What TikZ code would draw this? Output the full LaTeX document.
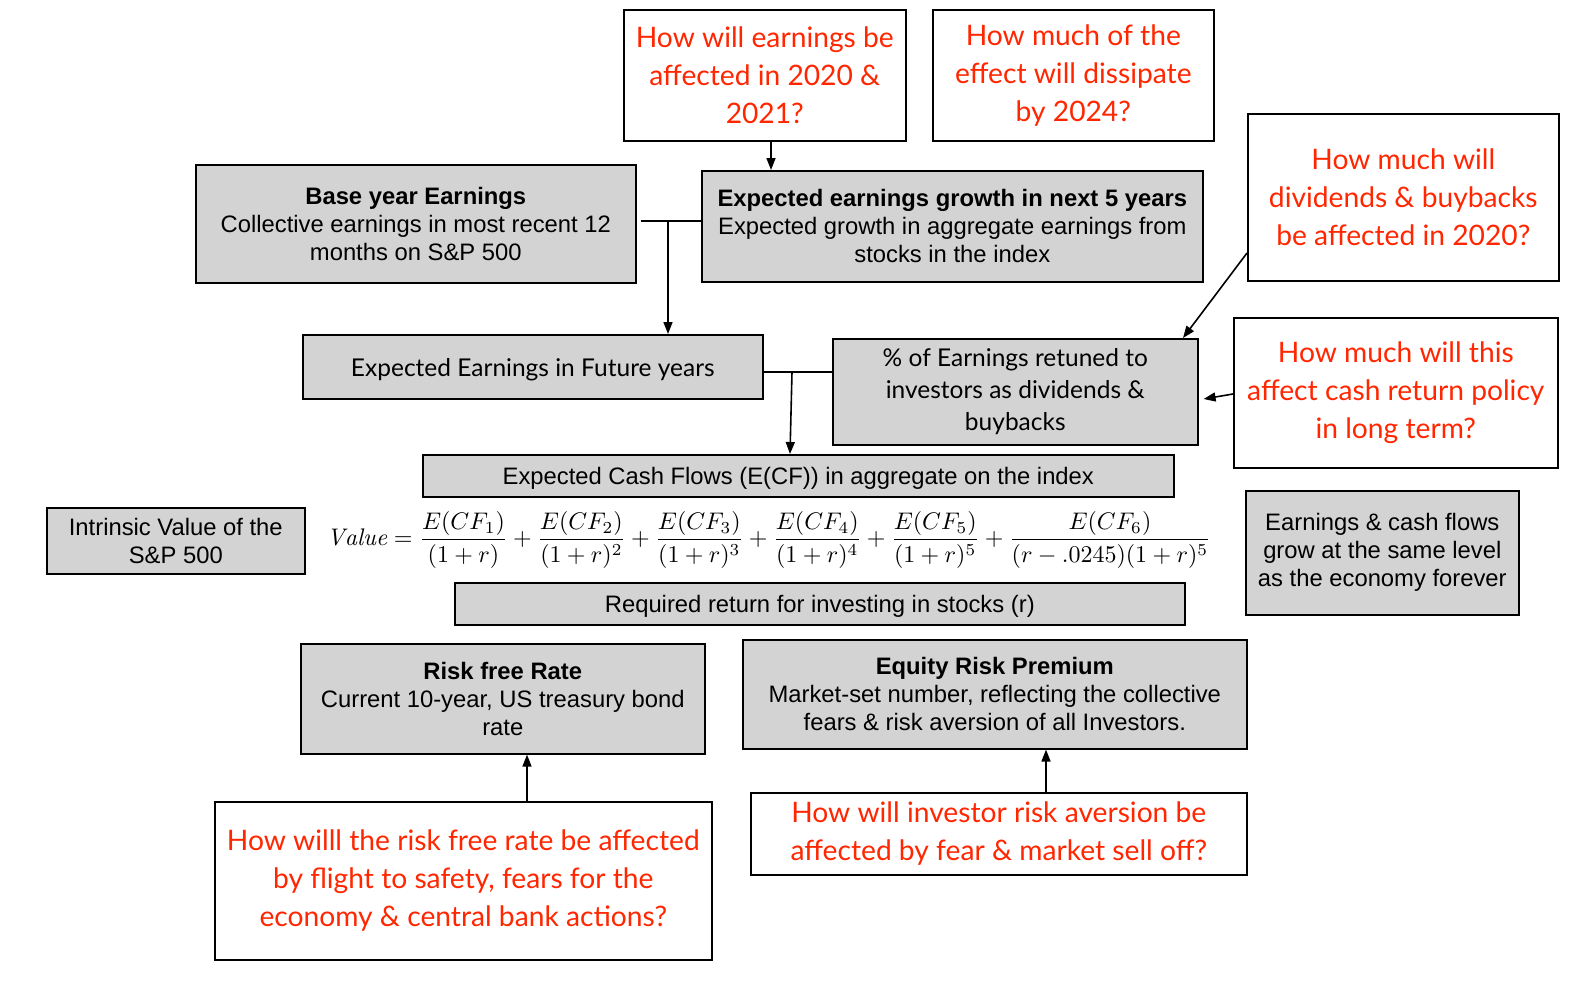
\documentclass[tikz,border=0pt]{standalone}
\usepackage{fontspec}
\usepackage{amsmath}
\usepackage{graphicx}
\newfontfamily\helv{Liberation Sans}
\newfontfamily\aven{Lato}
\usetikzlibrary{arrows.meta}
\definecolor{qred}{RGB}{255,38,0}
\definecolor{boxgray}{RGB}{211,211,211}
\newcommand\lowertxt[1]{\raisebox{-3pt}[\height][\depth]{#1}}
\tikzset{
  gbox/.style={draw=black, line width=1.6pt, fill=boxgray, inner sep=0pt, anchor=north west, align=center, font=\helv\fontsize{23.8}{28}\selectfont},
  abox/.style={gbox, font=\aven\fontsize{24.5}{32}\selectfont},
  rbox/.style={draw=black, line width=1.6pt, fill=white, inner sep=0pt, anchor=north west, align=center, text=qred, font=\aven\fontsize{28.2}{38}\selectfont},
  arr/.style={line width=1.6pt, -{Triangle[length=12pt,width=9pt]}},
  conn/.style={line width=1.6pt}
}
\begin{document}
\begin{tikzpicture}[x=1pt,y=-1pt]
\useasboundingbox[fill=white] (0,0) rectangle (1574,998);

\node[rbox, minimum width=282pt, minimum height=131pt] (red1) at (623,9) {How will earnings be\\affected in 2020 \&\\2021?};
\node[rbox, minimum width=281pt, minimum height=131pt] (red2) at (932,9) {How much of the\\effect will dissipate\\by 2024?};
\node[rbox, minimum width=311pt, minimum height=167pt] (red3) at (1247,113) {How much will\\dividends \& buybacks\\be affected in 2020?};

\node[gbox, minimum width=440pt, minimum height=118pt] (base) at (195,164) {\bfseries Base year Earnings\\Collective earnings in most recent 12\\months on S\&P 500};
\node[gbox, minimum width=501pt, minimum height=111pt] (expg) at (701,170) {\bfseries Expected earnings growth in next 5 years\\Expected growth in aggregate earnings from\\stocks in the index};

\node[abox, minimum width=460pt, minimum height=64pt] (future) at (302,334) {\lowertxt{Expected Earnings in Future years}};
\node[abox, minimum width=365pt, minimum height=106pt] (pct) at (832,338) {\% of Earnings retuned to\\investors as dividends \&\\buybacks};
\node[rbox, minimum width=324pt, minimum height=150pt] (red4) at (1233,317) {How much will this\\affect cash return policy\\in long term?};

\node[gbox, minimum width=751pt, minimum height=42pt] (ecf) at (422,454) {\lowertxt{Expected Cash Flows (E(CF)) in aggregate on the index}};
\node[gbox, minimum width=258pt, minimum height=66pt] (iv) at (46,507) {Intrinsic Value of the\\S\&P 500};
\node (formula) at (769,540) {\resizebox{884pt}{!}{$\displaystyle \mathit{Value}=\frac{E(CF_1)}{(1+r)}+\frac{E(CF_2)}{(1+r)^2}+\frac{E(CF_3)}{(1+r)^3}+\frac{E(CF_4)}{(1+r)^4}+\frac{E(CF_5)}{(1+r)^5}+\frac{E(CF_6)}{(r-.0245)(1+r)^5}$}};
\node[gbox, minimum width=273pt, minimum height=124pt] (eco) at (1245,490) {Earnings \& cash flows\\grow at the same level\\as the economy forever};
\node[gbox, minimum width=730pt, minimum height=42pt] (req) at (454,582) {\lowertxt{Required return for investing in stocks (r)}};

\node[gbox, minimum width=404pt, minimum height=110pt] (rf) at (300,643) {\bfseries Risk free Rate\\Current 10-year, US treasury bond\\rate};
\node[gbox, minimum width=504pt, minimum height=109pt] (erp) at (742,639) {\bfseries Equity Risk Premium\\Market-set number, reflecting the collective\\fears \& risk aversion of all Investors.};

\node[rbox, minimum width=497pt, minimum height=158pt] (red5) at (214,801) {How willl the risk free rate be affected\\by flight to safety, fears for the\\economy \& central bank actions?};
\node[rbox, minimum width=496pt, minimum height=82pt] (red6) at (750,792) {How will investor risk aversion be\\affected by fear \& market sell off?};

% connectors
\draw[arr] (red1.south -| 771,0) -- (expg.north -| 771,0);
\coordinate (j1) at (668,221);
\draw[conn] ([xshift=4pt]base.east |- j1) -- (j1 -| expg.west);
\draw[arr] (j1) -- (j1 |- future.north);
\coordinate (j2) at (792,372);
\draw[conn] (future.east |- j2) -- (j2 -| pct.west);
\draw[arr] (j2) -- (ecf.north -| 790,0);
\draw[arr] (red3.west |- 0,253) -- (pct.north -| 1183,0);
\draw[arr] (red4.west |- 0,394) -- ([xshift=5pt]pct.east |- 0,399);
\draw[arr] (red5.north -| 527,0) -- (rf.south -| 527,0);
\draw[arr] (red6.north -| 1046,0) -- (erp.south -| 1046,0);
\end{tikzpicture}
\end{document}
